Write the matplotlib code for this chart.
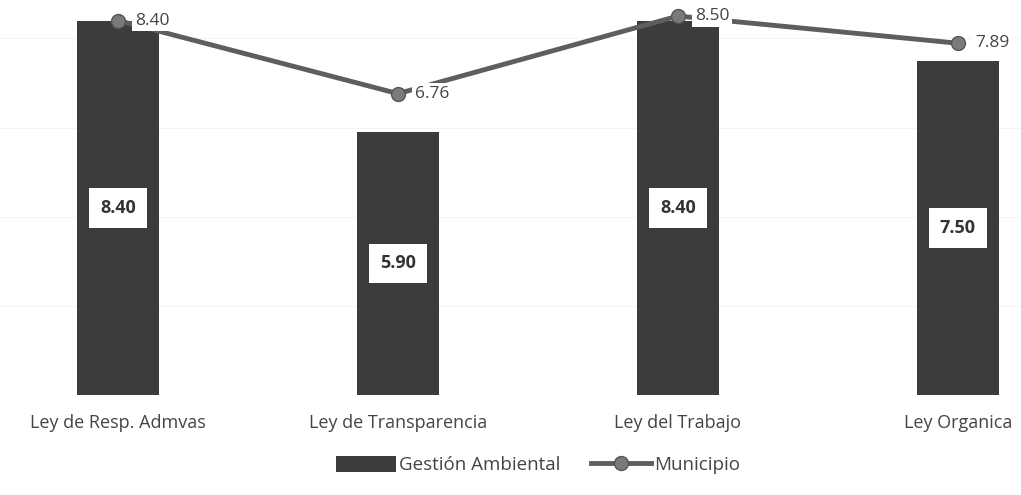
import matplotlib.pyplot as plt
import numpy as np

plt.rcParams['font.family'] = ['Open Sans', 'DejaVu Sans']

categorias = ['Ley de Resp. Admvas', 'Ley de Transparencia', 'Ley del Trabajo', 'Ley Organica']
gestion = [8.40, 5.90, 8.40, 7.50]
municipio = [8.40, 6.76, 8.50, 7.89]

fig = plt.figure(figsize=(10.21, 4.95), dpi=100)
ax = fig.add_axes([0, 1 - 395 / 495, 1, 395 / 495])

x = np.arange(len(categorias))
bars = ax.bar(x, gestion, width=0.29, color='#3c3c3c', label='Gestión Ambiental', zorder=2)
ax.plot(x, municipio, color='#5e5e5e', lw=3.5, marker='o', markersize=10,
        markerfacecolor='#7a7a7a', markeredgecolor='#555555', label='Municipio', zorder=3)

# etiquetas de barras
for xi, v in zip(x, gestion):
    ax.text(xi, v / 2, f"{v:.2f}", ha='center', va='center', fontsize=13, fontweight='bold',
            color='#333333', zorder=4,
            bbox=dict(boxstyle='square,pad=0.6', fc='white', ec='none'))

# etiquetas de la linea
for xi, v in zip(x, municipio):
    ax.text(xi + 0.06, v, f"{v:.2f}", ha='left', va='center', fontsize=12.5,
            color='#444444', zorder=4,
            bbox=dict(boxstyle='square,pad=0.15', fc='white', ec='none'))

ax.set_xlim(-118 / 280, (1021 - 118) / 280)
ax.set_ylim(0, 8.86)
ax.set_yticks([0, 2, 4, 6, 8])
ax.yaxis.grid(True, color='#f4f4f4', lw=0.8, zorder=0)
ax.set_yticklabels([])
ax.tick_params(axis='y', length=0)
ax.set_xticks(x)
ax.set_xticklabels(categorias, fontsize=13, color='#444444')
ax.tick_params(axis='x', length=0, pad=14)
for s in ax.spines.values():
    s.set_visible(False)

handles, labels = ax.get_legend_handles_labels()
order = [labels.index('Gestión Ambiental'), labels.index('Municipio')]
fig.legend([handles[i] for i in order], [labels[i] for i in order],
           loc='center', bbox_to_anchor=(0.527, 0.06), ncol=2, frameon=False,
           fontsize=13.5, handlelength=3.2, handleheight=0.9, handletextpad=0.2,
           columnspacing=1.6, labelcolor='#444444')

fig.savefig('out.png', dpi=100)
